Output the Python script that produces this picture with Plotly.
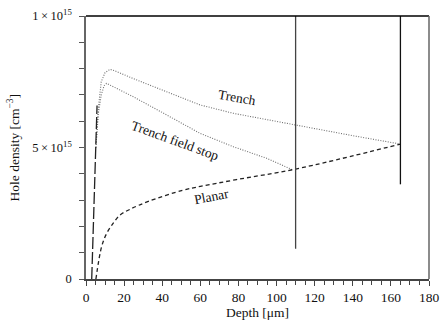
import plotly.graph_objects as go

# Depth in um, hole density in units of 1e14 cm^-3
trench_x = [5.2, 6.5, 8.0, 10.0, 12.6, 15.0, 24.8, 42.3, 59.8, 77.3, 94.8, 109.7, 140.0, 165.0]
trench_y = [5.0, 6.5, 7.5, 7.85, 7.97, 7.92, 7.62, 7.12, 6.62, 6.30, 6.05, 5.86, 5.45, 5.13]

tfs_x = [5.2, 6.5, 8.0, 9.5, 10.8, 24.8, 42.3, 59.8, 77.3, 94.8, 108.8]
tfs_y = [5.0, 6.3, 7.0, 7.35, 7.44, 6.93, 6.24, 5.54, 5.03, 4.59, 4.14]

planar_x = [5.2, 8.2, 10.9, 14.3, 17.8, 23.1, 32.7, 51.0, 60.0, 79.0, 110.0, 165.0]
planar_y = [0.0, 1.23, 1.74, 2.12, 2.43, 2.65, 2.95, 3.38, 3.52, 3.78, 4.18, 5.13]

steep_x = [3.0, 5.8]
steep_y = [0.0, 6.6]

vline1_x = [110, 110]
vline1_y = [1.15, 10]
vline2_x = [165, 165]
vline2_y = [3.6, 10]

ytick_vals = [0, 5, 10]
ytick_text = ["0", "5\u2009×\u200910<sup>15</sup>", "1\u2009×\u200910<sup>15</sup>"]
xtick_vals = [0, 20, 40, 60, 80, 100, 120, 140, 160, 180]

FONT = "Liberation Serif"
FS = 13.5

fig = go.Figure()
fig.add_trace(go.Scatter(x=trench_x, y=trench_y, mode="lines",
                         line=dict(color="#707070", width=1.1, dash="1px,1.5px"), showlegend=False))
fig.add_trace(go.Scatter(x=tfs_x, y=tfs_y, mode="lines",
                         line=dict(color="#707070", width=1.1, dash="1px,1.5px"), showlegend=False))
fig.add_trace(go.Scatter(x=planar_x, y=planar_y, mode="lines", line_shape="spline",
                         line=dict(color="#222222", width=1.3, dash="4px,3px"), showlegend=False))
fig.add_trace(go.Scatter(x=steep_x, y=steep_y, mode="lines",
                         line=dict(color="#222222", width=1.3, dash="12px,3px"), showlegend=False))
fig.add_trace(go.Scatter(x=vline1_x, y=vline1_y, mode="lines",
                         line=dict(color="#444444", width=1.3), showlegend=False))
fig.add_trace(go.Scatter(x=vline2_x, y=vline2_y, mode="lines",
                         line=dict(color="#111111", width=1.3), showlegend=False))

fig.add_annotation(x=79, y=6.9, text="Trench", showarrow=False, textangle=10,
                   font=dict(family=FONT, size=FS, color="#111"))
fig.add_annotation(x=46.5, y=5.25, text="Trench field stop", showarrow=False, textangle=20,
                   font=dict(family=FONT, size=FS, color="#111"))
fig.add_annotation(x=66, y=3.15, text="Planar", showarrow=False, textangle=-11,
                   font=dict(family=FONT, size=FS, color="#111"))

# y-axis title placed at fixed position
fig.add_annotation(xref="paper", yref="paper", x=-0.21, y=0.5, xanchor="center",
                   yanchor="middle", text="Hole density [cm<sup>−3</sup>]", showarrow=False,
                   textangle=-90, font=dict(family=FONT, size=FS, color="#111"))

# top border (black) and right border (grey)
fig.add_shape(type="line", xref="paper", yref="paper", x0=0, x1=1, y0=1, y1=1,
              line=dict(color="#000000", width=1.3))
fig.add_shape(type="line", xref="paper", yref="paper", x0=1, x1=1, y0=0, y1=1,
              line=dict(color="#666666", width=1.5))

fig.update_xaxes(range=[0, 180], tickvals=xtick_vals, ticks="outside", ticklen=5,
                 tickcolor="#444", showline=True, linecolor="#444", linewidth=1.5,
                 mirror=False, showgrid=False, zeroline=False, automargin=False,
                 minor=dict(dtick=5, ticks="outside", ticklen=4, tickcolor="#444"),
                 title=dict(text="Depth [μm]", standoff=4, font=dict(family=FONT, size=FS)),
                 tickfont=dict(family=FONT, size=FS, color="#111"))
fig.update_yaxes(range=[0, 10], tickvals=ytick_vals, ticktext=ytick_text, ticks="outside",
                 ticklen=5, tickcolor="#555", showline=True, linecolor="#666", linewidth=1.5,
                 mirror=False, showgrid=False, zeroline=False, automargin=False,
                 ticklabelstandoff=5,
                 minor=dict(dtick=1, ticks="outside", ticklen=5, tickcolor="#555"),
                 tickfont=dict(family=FONT, size=12.5, color="#111"))

fig.update_layout(width=441, height=327, margin=dict(l=86, r=12, t=16, b=48),
                  plot_bgcolor="white", paper_bgcolor="white",
                  font=dict(family=FONT, color="#111"))

fig.write_html("out.html")
